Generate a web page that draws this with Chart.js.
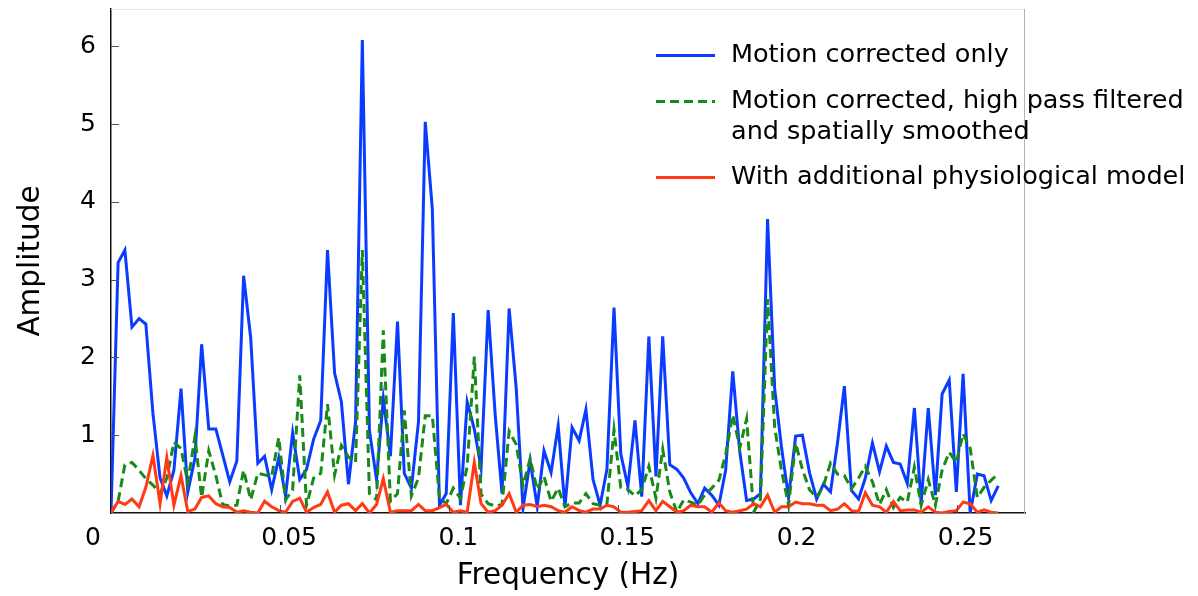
<!DOCTYPE html>
<html>
<head>
<meta charset="utf-8">
<script src="https://cdn.jsdelivr.net/npm/chart.js@4.4.1/dist/chart.umd.min.js"></script>
<style>
  html, body { margin: 0; padding: 0; background: #ffffff; }
  #wrap { position: relative; width: 1198px; height: 596px; }
</style>
</head>
<body>
<div id="wrap"><canvas id="c" width="1198" height="596"></canvas></div>
<script>
// Frequency bins (Hz)
const freqHz = [
  0, 0.0021, 0.0041, 0.0062, 0.0083, 0.0103, 0.0124, 0.0145, 0.0165, 0.0186,
  0.0207, 0.0227, 0.0248, 0.0268, 0.0289, 0.0310, 0.0330, 0.0351, 0.0372, 0.0392,
  0.0413, 0.0434, 0.0454, 0.0475, 0.0496, 0.0516, 0.0537, 0.0558, 0.0578, 0.0599,
  0.0620, 0.0640, 0.0661, 0.0681, 0.0702, 0.0723, 0.0743, 0.0764, 0.0785, 0.0805,
  0.0826, 0.0847, 0.0867, 0.0888, 0.0909, 0.0929, 0.0950, 0.0971, 0.0991, 0.1012,
  0.1033, 0.1053, 0.1074, 0.1094, 0.1115, 0.1136, 0.1156, 0.1177, 0.1198, 0.1218,
  0.1239, 0.1260, 0.1280, 0.1301, 0.1322, 0.1342, 0.1363, 0.1384, 0.1404, 0.1425,
  0.1446, 0.1466, 0.1487, 0.1507, 0.1528, 0.1549, 0.1569, 0.1590, 0.1611, 0.1631,
  0.1652, 0.1673, 0.1693, 0.1714, 0.1735, 0.1755, 0.1776, 0.1797, 0.1817, 0.1838,
  0.1859, 0.1879, 0.1900, 0.1920, 0.1941, 0.1962, 0.1982, 0.2003, 0.2024, 0.2044,
  0.2065, 0.2086, 0.2106, 0.2127, 0.2148, 0.2168, 0.2189, 0.2210, 0.2230, 0.2251,
  0.2272, 0.2292, 0.2313, 0.2333, 0.2354, 0.2375, 0.2395, 0.2416, 0.2437, 0.2457,
  0.2478, 0.2499, 0.2519, 0.2540, 0.2561, 0.2581, 0.2602, 0.2623
];

// Amplitude: motion corrected only
const motionCorrectedOnly = [
  0, 3.22, 3.38, 2.39, 2.50, 2.43, 1.28, 0.45, 0.22, 0.55,
  1.60, 0.27, 0.70, 2.17, 1.08, 1.08, 0.75, 0.40, 0.67, 3.05,
  2.25, 0.64, 0.73, 0.30, 0.71, 0.22, 1.03, 0.43, 0.56, 0.95,
  1.19, 3.38, 1.80, 1.43, 0.37, 1.17, 6.08, 1.06, 0.43, 1.47,
  0.73, 2.46, 0.51, 0.32, 1.17, 5.03, 3.90, 0.10, 0.25, 2.57,
  0.10, 1.43, 1.08, 0.58, 2.61, 1.25, 0.25, 2.63, 1.60, 0.06,
  0.67, 0.08, 0.80, 0.52, 1.12, 0.08, 1.10, 0.93, 1.33, 0.43,
  0.10, 0.56, 2.64, 0.76, 0.34, 1.19, 0.21, 2.27, 0.47, 2.27,
  0.62, 0.56, 0.45, 0.26, 0.12, 0.32, 0.23, 0.10, 0.55, 1.82,
  0.78, 0.16, 0.18, 0.25, 3.78, 1.60, 0.85, 0.20, 0.99, 1.00,
  0.52, 0.18, 0.37, 0.27, 0.91, 1.63, 0.29, 0.18, 0.45, 0.90,
  0.53, 0.86, 0.65, 0.63, 0.38, 1.35, 0.12, 1.35, 0.23, 1.53,
  1.71, 0.27, 1.79, 0.00, 0.50, 0.48, 0.16, 0.35
];

// Amplitude: motion corrected, high pass filtered and spatially smoothed
const highPassSmoothed = [
  0, 0.15, 0.62, 0.65, 0.55, 0.44, 0.36, 0.25, 0.45, 0.91,
  0.83, 0.39, 0.98, 0.20, 0.80, 0.48, 0.11, 0.09, 0.10, 0.55,
  0.17, 0.51, 0.49, 0.47, 0.97, 0.17, 0.30, 1.77, 0.10, 0.45,
  0.51, 1.40, 0.49, 0.87, 0.72, 0.65, 3.38, 0.25, 0.17, 2.35,
  0.15, 0.25, 1.32, 0.22, 0.45, 1.25, 1.25, 0.19, 0.12, 0.32,
  0.19, 0.60, 2.01, 0.24, 0.12, 0.09, 0.11, 1.05, 0.88, 0.35,
  0.70, 0.30, 0.47, 0.15, 0.32, 0.08, 0.13, 0.13, 0.25, 0.12,
  0.10, 0.11, 1.07, 0.33, 0.30, 0.22, 0.30, 0.60, 0.19, 0.82,
  0.27, 0.01, 0.17, 0.14, 0.10, 0.23, 0.32, 0.42, 0.75, 1.26,
  0.84, 1.21, 0.01, 0.18, 2.75, 1.10, 0.55, 0.10, 0.90, 0.56,
  0.30, 0.20, 0.35, 0.64, 0.50, 0.48, 0.31, 0.45, 0.60, 0.40,
  0.11, 0.30, 0.07, 0.20, 0.14, 0.59, 0.10, 0.43, 0.10, 0.55,
  0.78, 0.65, 1.02, 0.83, 0.20, 0.33, 0.42, 0.51
];

// Amplitude: with additional physiological model
const physioModel = [
  0, 0.15, 0.11, 0.18, 0.08, 0.33, 0.74, 0.12, 0.71, 0.10,
  0.48, 0.02, 0.05, 0.20, 0.22, 0.12, 0.08, 0.07, 0.01, 0.03,
  0.01, 0.00, 0.15, 0.08, 0.03, 0.01, 0.15, 0.19, 0.01, 0.07,
  0.11, 0.27, 0.01, 0.10, 0.12, 0.03, 0.12, 0.00, 0.11, 0.44,
  0.01, 0.03, 0.03, 0.03, 0.11, 0.03, 0.03, 0.07, 0.11, 0.01,
  0.03, 0.01, 0.65, 0.12, 0.01, 0.03, 0.10, 0.25, 0.01, 0.10,
  0.11, 0.08, 0.10, 0.08, 0.03, 0.01, 0.08, 0.03, 0.01, 0.05,
  0.05, 0.10, 0.08, 0.01, 0.01, 0.02, 0.03, 0.16, 0.03, 0.15,
  0.08, 0.01, 0.03, 0.10, 0.08, 0.08, 0.01, 0.13, 0.03, 0.01,
  0.03, 0.05, 0.12, 0.08, 0.23, 0.01, 0.08, 0.08, 0.14, 0.12,
  0.12, 0.10, 0.10, 0.03, 0.05, 0.12, 0.03, 0.02, 0.26, 0.10,
  0.08, 0.01, 0.15, 0.03, 0.04, 0.04, 0.01, 0.08, 0.01, 0.00,
  0.02, 0.03, 0.14, 0.12, 0.01, 0.04, 0.01, 0.00
];

const seriesLabels = [
  ['Motion corrected only'],
  ['Motion corrected, high pass filtered', 'and spatially smoothed'],
  ['With additional physiological model']
];
const seriesColors = ['#0a3cff', '#178a17', '#ff3a14'];

const FONT = "'DejaVu Sans', 'Liberation Sans', sans-serif";
Chart.defaults.font.family = FONT;
Chart.defaults.color = '#000';

const decorations = {
  id: 'decorations',
  afterDraw(chart) {
    const { ctx, chartArea: a, scales: { x, y } } = chart;
    ctx.save();
    // frame top / right
    ctx.lineWidth = 1;
    ctx.strokeStyle = '#e6e6e6';
    ctx.beginPath(); ctx.moveTo(a.left, a.top + 0.5); ctx.lineTo(a.right, a.top + 0.5); ctx.stroke();
    ctx.strokeStyle = '#b4b4b4';
    ctx.beginPath(); ctx.moveTo(a.right - 0.5, a.top); ctx.lineTo(a.right - 0.5, a.bottom); ctx.stroke();
    // inward tick marks
    ctx.strokeStyle = '#555';
    y.ticks.forEach(t => {
      if (t.value <= 0) return;
      const py = Math.round(y.getPixelForValue(t.value)) + 0.5;
      ctx.beginPath(); ctx.moveTo(a.left, py); ctx.lineTo(a.left + 8, py); ctx.stroke();
    });
    x.ticks.forEach(t => {
      if (t.value <= 0) return;
      const px = Math.round(x.getPixelForValue(t.value)) + 0.5;
      ctx.beginPath(); ctx.moveTo(px, a.bottom); ctx.lineTo(px, a.bottom - 8); ctx.stroke();
    });
    // origin label
    ctx.fillStyle = '#000';
    ctx.font = '25px ' + FONT;
    ctx.textAlign = 'center';
    ctx.textBaseline = 'middle';
    ctx.fillText('0', x.getPixelForValue(0) - 18, a.bottom + 25);
    // legend
    const rows = [55, 101, 177];
    ctx.font = '25.5px ' + FONT;
    ctx.textAlign = 'left';
    chart.data.datasets.forEach((ds, i) => {
      const ly = rows[i] + 0.5;
      ctx.strokeStyle = ds.borderColor;
      ctx.lineWidth = 3;
      ctx.setLineDash(ds.borderDash || []);
      ctx.beginPath(); ctx.moveTo(656, ly); ctx.lineTo(715, ly); ctx.stroke();
      ctx.setLineDash([]);
      seriesLabels[i].forEach((txt, k) => ctx.fillText(txt, 731, rows[i] + k * 31));
    });
    ctx.restore();
  }
};

new Chart(document.getElementById('c'), {
  type: 'line',
  data: {
    labels: freqHz,
    datasets: [
      { label: seriesLabels[0].join(' '), data: motionCorrectedOnly, borderColor: seriesColors[0], borderWidth: 3, order: 3 },
      { label: seriesLabels[1].join(' '), data: highPassSmoothed, borderColor: seriesColors[1], borderWidth: 3, borderDash: [9, 5], order: 2 },
      { label: seriesLabels[2].join(' '), data: physioModel, borderColor: seriesColors[2], borderWidth: 3, order: 1 }
    ]
  },
  options: {
    responsive: false,
    animation: false,
    devicePixelRatio: 1,
    layout: { padding: { top: 9, right: 173, bottom: 0, left: 0 }, autoPadding: false },
    elements: { point: { radius: 0 }, line: { tension: 0 } },
    plugins: { legend: { display: false }, tooltip: { enabled: false } },
    scales: {
      x: {
        type: 'linear', min: 0, max: 0.2702,
        grid: { display: false, drawTicks: false },
        border: { display: true, color: '#111', width: 1.5 },
        ticks: {
          stepSize: 0.05, includeBounds: false, padding: 10, labelOffset: 9,
          maxRotation: 0, autoSkip: false, font: { size: 25 }, color: '#000',
          callback: v => (v === 0 ? '' : String(+v.toFixed(2)))
        },
        title: { display: true, text: 'Frequency (Hz)', font: { size: 29.5 }, color: '#000', padding: { top: 0, bottom: 2 } },
        afterFit(s) { s.height = 83; s.paddingLeft = 0; s.paddingRight = 0; }
      },
      y: {
        min: 0, max: 6.48,
        grid: { display: false, drawTicks: false },
        border: { display: true, color: '#111', width: 1.5 },
        ticks: {
          stepSize: 1, includeBounds: false, padding: 15, font: { size: 25 }, color: '#000',
          callback: v => (v === 0 ? '' : String(v))
        },
        title: { display: true, text: 'Amplitude', font: { size: 29.5 }, color: '#000', padding: { top: 14, bottom: 0 } },
        afterFit(s) { s.width = 111; s.paddingTop = 0; s.paddingBottom = 0; }
      }
    }
  },
  plugins: [decorations]
});
</script>
</body>
</html>
